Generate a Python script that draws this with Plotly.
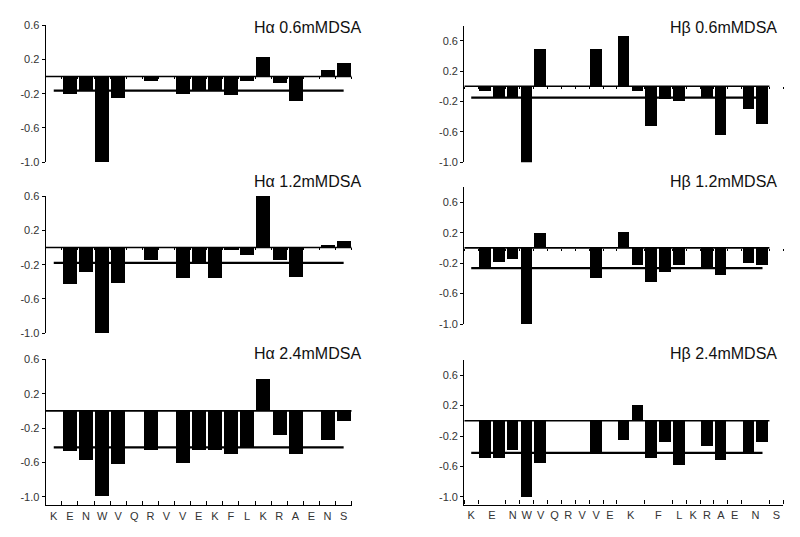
import plotly.graph_objects as go

# ---------------- data ----------------
residues = ["K", "E", "N", "W", "V", "Q", "R", "V", "V", "E",
            "K", "F", "L", "K", "R", "A", "E", "N", "S"]

# H-alpha panels: one value per residue (None = no bar)
ha_06 = [None, -0.20, -0.17, -1.00, -0.25, None, -0.05, None, -0.20, -0.17,
         -0.17, -0.22, -0.05, 0.23, -0.08, -0.28, None, 0.08, 0.155]
ha_12 = [None, -0.43, -0.29, -1.00, -0.41, None, -0.15, None, -0.36, -0.19,
         -0.36, -0.035, -0.085, 0.64, -0.15, -0.34, None, 0.03, 0.08]
ha_24 = [None, -0.47, -0.575, -1.00, -0.625, None, -0.46, None, -0.61, -0.46,
         -0.46, -0.51, -0.42, 0.37, -0.29, -0.51, None, -0.34, -0.12]
ha_thresholds = [-0.165, -0.18, -0.425]

# H-beta panels: one value per slot of the H-beta axis (None = no bar)
hb_06 = [None, -0.053, -0.15, -0.14, -1.00, 0.50, None, None, None, 0.50, None,
         0.67, -0.05, -0.51, -0.16, -0.185, None, -0.15, -0.63, None, -0.29, -0.49]
hb_12 = [None, -0.26, -0.185, -0.15, -1.00, 0.20, None, None, None, -0.395, None,
         0.21, -0.23, -0.45, -0.315, -0.23, None, -0.26, -0.36, None, -0.205, -0.23]
hb_24 = [None, -0.48, -0.48, -0.38, -1.00, -0.55, None, None, None, -0.41, None,
         -0.245, 0.21, -0.48, -0.27, -0.575, None, -0.325, -0.51, None, -0.42, -0.27]
hb_thresholds = [-0.15, -0.265, -0.42]
# slot of each residue label along the H-beta axis (23 slots)
hb_label_slots = [0, 1.5, 3, 4, 5, 6, 7, 8, 9, 10, 11.5, 13.5, 15, 16, 17, 18, 19, 20.5, 22]
hb_slot_count = 23

y_tick_vals = [0.6, 0.2, -0.2, -0.6, -1.0]
y_tick_text = ["0.6", "0.2", "-0.2", "-0.6", "-1.0"]

titles_ha = ["H\u03b1 0.6mMDSA", "H\u03b1 1.2mMDSA", "H\u03b1 2.4mMDSA"]
titles_hb = ["H\u03b2 0.6mMDSA", "H\u03b2 1.2mMDSA", "H\u03b2 2.4mMDSA"]

# ---------------- layout helpers ----------------
W, H = 800, 537
FONT = "Liberation Sans, Arial, sans-serif"


def px_x(a, b):
    return [a / W, b / W]


def px_y(top, bottom):
    return [1 - bottom / H, 1 - top / H]


left_x = px_x(45.7, 351.7)
right_x = px_x(464.3, 783.3)

panels = [
    (ha_06, ha_thresholds[0], titles_ha[0], left_x, (25.0, 162.3), [-1.0, 0.6], False, "L", 27.5),
    (hb_06, hb_thresholds[0], titles_hb[0], right_x, (25.5, 162.3), [-1.0, 0.8], False, "R", 27.0),
    (ha_12, ha_thresholds[1], titles_ha[1], left_x, (196.0, 333.3), [-1.0, 0.6], False, "L", 181.7),
    (hb_12, hb_thresholds[1], titles_hb[1], right_x, (187.0, 324.0), [-1.0, 0.8], False, "R", 181.7),
    (ha_24, ha_thresholds[2], titles_ha[2], left_x, (359.4, 505.3), [-1.1, 0.6], True, "L", 353.3),
    (hb_24, hb_thresholds[2], titles_hb[2], right_x, (359.8, 504.6), [-1.1, 0.8], True, "R", 353.5),
]

fig = go.Figure()
layout = {}
annotations = []

for i, (vals, thr, title, xdom, (ytop, ybot), yr, bottom, side, title_y) in enumerate(panels):
    n = i + 1
    xa = "x" if n == 1 else f"x{n}"
    ya = "y" if n == 1 else f"y{n}"
    xkey = "xaxis" if n == 1 else f"xaxis{n}"
    ykey = "yaxis" if n == 1 else f"yaxis{n}"

    idx = list(range(len(vals)))
    bar_w = 0.87 if side == "L" else 0.84
    fig.add_trace(go.Bar(x=idx, y=vals, xaxis=xa, yaxis=ya, width=bar_w,
                         marker=dict(color="black", line=dict(width=0)),
                         showlegend=False, hoverinfo="x+y"))
    # zero line across the value slots
    fig.add_trace(go.Scatter(x=[-0.5, len(vals) - 0.5], y=[0, 0], xaxis=xa, yaxis=ya,
                             mode="lines", line=dict(color="black", width=1.6),
                             showlegend=False, hoverinfo="skip"))
    # threshold line from first to last slot with data
    last = max(k for k, v in enumerate(vals) if v is not None)
    fig.add_trace(go.Scatter(x=[0, last], y=[thr, thr], xaxis=xa, yaxis=ya,
                             mode="lines", line=dict(color="black", width=2.2),
                             showlegend=False, hoverinfo="skip"))

    if side == "L":
        nslots = len(residues)
        label_pos = list(range(nslots))
    else:
        nslots = hb_slot_count
        label_pos = hb_label_slots
    boundaries = [k - 0.5 for k in range(nslots + 1)]
    boundaries = [b for b in boundaries if b not in label_pos]
    xrange = [-0.5, nslots - 0.5]

    ydom = px_y(ytop, ybot)
    layout[ykey] = dict(domain=ydom, range=yr, anchor=xa, showline=True, linecolor="black",
                        linewidth=1.3, ticks="outside", ticklen=3, tickwidth=1.2,
                        tickcolor="black", tickvals=y_tick_vals, ticktext=y_tick_text,
                        showgrid=False, zeroline=False, automargin=False,
                        tickfont=dict(family=FONT, size=11, color="#333"))
    if bottom:
        layout[xkey] = dict(domain=xdom, range=xrange, anchor=ya, showline=True,
                            linecolor="black", linewidth=1.3, ticks="",
                            tickvals=label_pos, ticktext=residues, showgrid=False,
                            zeroline=False, automargin=False,
                            tickfont=dict(family=FONT, size=11, color="#333"),
                            minor=dict(tickmode="array", tickvals=boundaries, ticks="inside",
                                       ticklen=4, tickwidth=1.2, tickcolor="black",
                                       showgrid=False))
    else:
        pos = ydom[0] + (0 - yr[0]) / (yr[1] - yr[0]) * (ydom[1] - ydom[0])
        layout[xkey] = dict(domain=xdom, range=xrange, anchor="free", position=pos,
                            showline=False, ticks="", showticklabels=False,
                            showgrid=False, zeroline=False, automargin=False,
                            minor=dict(tickmode="array", tickvals=boundaries, ticks="outside",
                                       ticklen=2, tickwidth=1, tickcolor="black",
                                       showgrid=False))

    right_edge = 363 if side == "L" else 779
    annotations.append(dict(text=title, xref="paper", yref="paper", x=right_edge / W,
                            y=1 - title_y / H, xanchor="right", yanchor="middle",
                            showarrow=False,
                            font=dict(family=FONT, size=16, color="#111")))

fig.update_layout(
    width=W, height=H,
    margin=dict(l=0, r=0, t=0, b=0, autoexpand=False),
    paper_bgcolor="white", plot_bgcolor="white",
    bargap=0, showlegend=False,
    annotations=annotations,
    font=dict(family=FONT, color="#333"),
    **layout,
)

fig.write_html("out.html", config={"displayModeBar": False},
               post_script="document.body.style.margin='0px';")
